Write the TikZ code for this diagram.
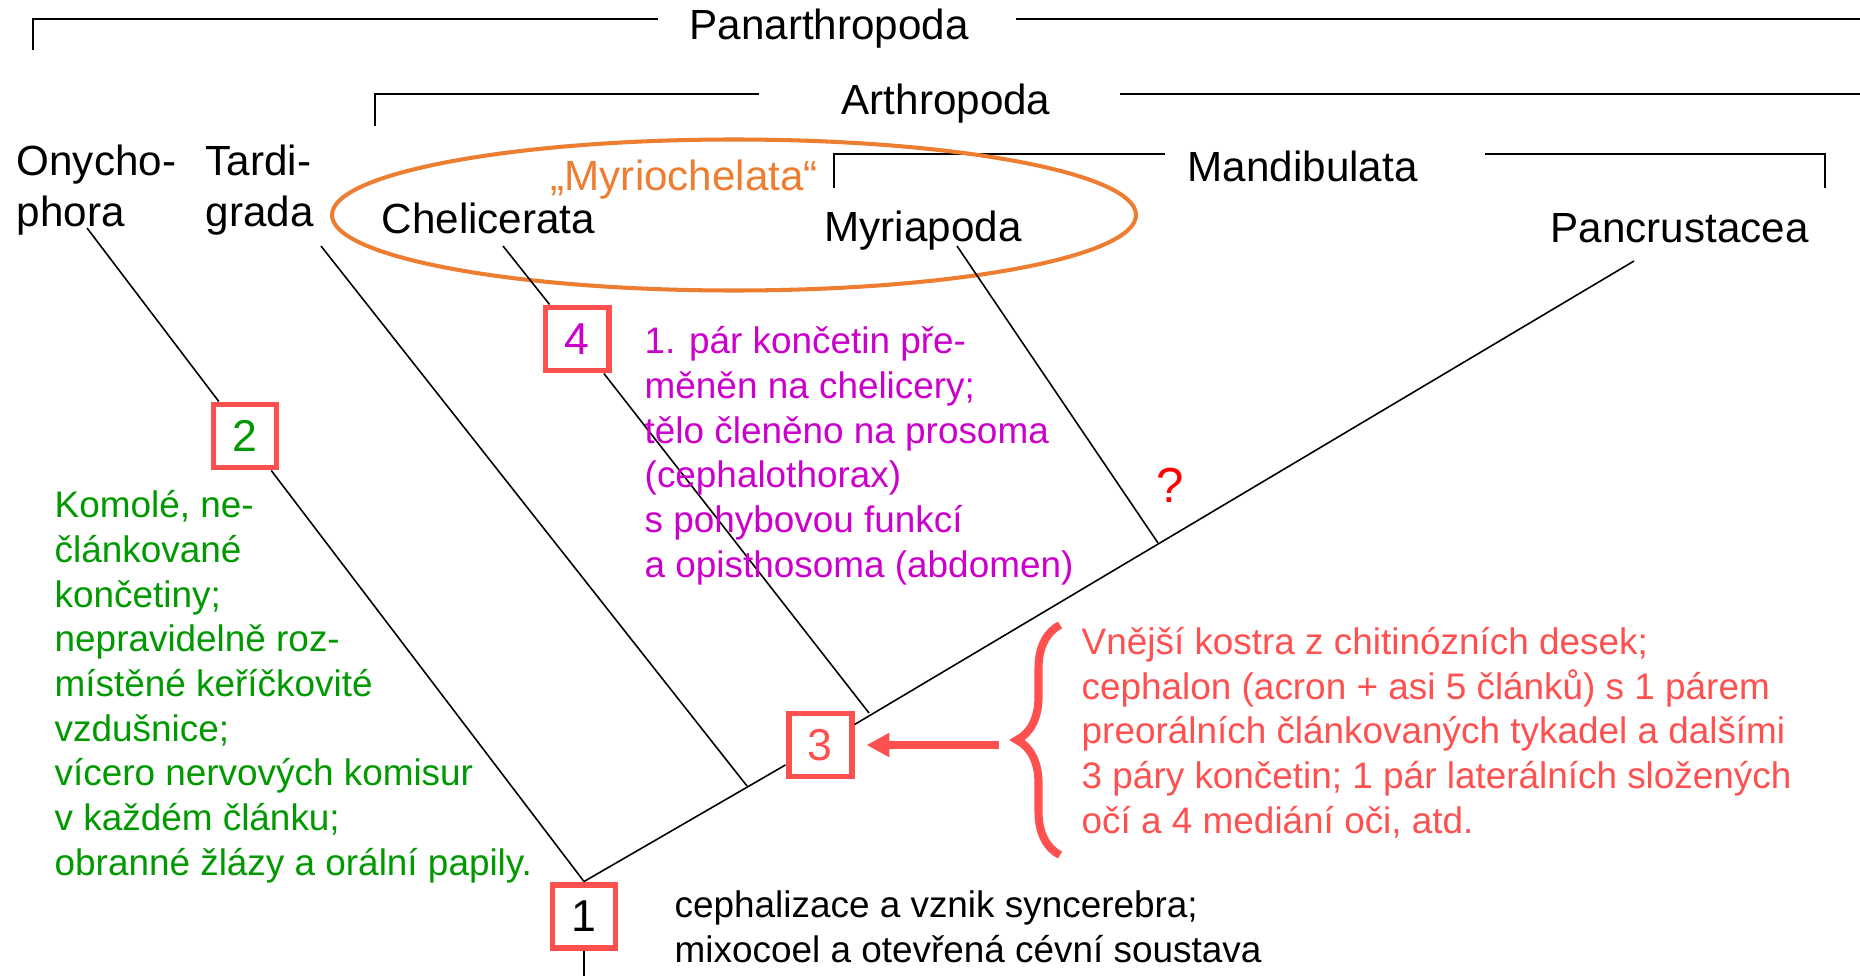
\documentclass[tikz,border=0pt]{standalone}
\usepackage{fontspec}
\setmainfont{Liberation Sans}
\usetikzlibrary{arrows.meta,decorations.pathreplacing}
\definecolor{boxred}{RGB}{255,80,80}
\definecolor{mygreen}{RGB}{0,153,0}
\definecolor{mypurple}{RGB}{204,0,204}
\definecolor{myorange}{RGB}{237,125,49}
\tikzset{
  lbl/.style={anchor=base west,inner sep=0pt,font=\fontsize{12}{14.3}\selectfont},
  desc/.style={anchor=base west,inner sep=0pt,align=left,font=\fontsize{10.5}{12.7}\selectfont},
  numbox/.style={draw=boxred,line width=1.7pt,fill=white,minimum size=0.63cm,inner sep=0pt,font=\fontsize{12.7}{15}\selectfont},
  branch/.style={line width=0.45pt},
  clade/.style={line width=0.6pt},
}
\begin{document}
\begin{tikzpicture}
\path[use as bounding box,fill=white] (0,0) rectangle (18.6,-9.76);
% clade brackets
\draw[clade] (0.33,-0.50) |- (6.58,-0.19);
\draw[clade] (10.16,-0.19) -- (18.6,-0.19);
\node[lbl] (panar) at (6.89,-0.40) {Panarthropoda};
\draw[clade] (3.75,-1.26) |- (7.59,-0.94);
\draw[clade] (11.20,-0.94) -- (18.6,-0.94);
\node[lbl] (arthr) at (8.41,-1.15) {Arthropoda};
\draw[clade] (8.34,-1.88) |- (11.65,-1.54);
\draw[clade] (14.85,-1.54) -| (18.25,-1.88);
\node[lbl] (mandi) at (11.87,-1.82) {Mandibulata};
% taxa (base = last line)
\node[lbl,align=left] (onych) at (0.16,-2.26) {Onycho-\\phora};
\node[lbl,align=left] (tardi) at (2.05,-2.26) {Tardi-\\grada};
\node[lbl] (cheli) at (3.81,-2.34) {Chelicerata};
\node[lbl] (myria) at (8.24,-2.41) {Myriapoda};
\node[lbl] (pancr) at (15.50,-2.42) {Pancrustacea};
\node[lbl,text=myorange] (myrio) at (5.50,-1.90) {„Myriochelata“};
\draw[myorange,line width=1.15pt] (7.34,-2.15) ellipse (4.02 and 0.755);
% tree
\coordinate (onyT) at (0.87,-2.28);
\coordinate (tarT) at (3.21,-2.46);
\coordinate (chelT) at (5.03,-2.46);
\coordinate (myrT) at (9.57,-2.46);
\coordinate (panT) at (16.34,-2.61);
\coordinate (jTar) at (7.47,-7.86);
\coordinate (jChel) at (8.69,-7.13);
\coordinate (jMyr) at (11.58,-5.43);
\node[numbox] (n1) at (5.84,-9.16) {1};
\node[numbox,text=mygreen] (n2) at (2.45,-4.36) {2};
\node[numbox,text=boxred] (n3) at (8.20,-7.45) {3};
\node[numbox,text=mypurple] (n4) at (5.77,-3.39) {4};
\draw[branch] (n1.north) -- (n3) -- (panT);
\draw[branch] (onyT) -- (n2) -- (n1.north);
\draw[branch] (tarT) -- (jTar);
\draw[branch] (chelT) -- (n4) -- (jChel);
\draw[branch] (myrT) -- (jMyr);
\draw[branch] (n1.south) -- (5.84,-9.76);
\node[text=red,font=\fontsize{14}{16}\selectfont] (quest) at (11.70,-4.85) {?};
% descriptions (base = last line)
\node[desc,text=mygreen] (txt2) at (0.54,-8.75) {Komolé, ne-\\článkované\\končetiny;\\nepravidelně roz-\\místěné keříčkovité\\vzdušnice;\\vícero nervových komisur\\v každém článku;\\obranné žlázy a orální papily.};
\node[desc,text=mypurple] (txt4) at (6.44,-5.77) {1. pár končetin pře-\\měněn na chelicery;\\tělo členěno na prosoma\\(cephalothorax)\\s pohybovou funkcí\\a opisthosoma (abdomen)};
\node[desc,text=boxred] (txt3) at (10.81,-8.33) {Vnější kostra z chitinózních desek;\\cephalon (acron + asi 5 článků) s 1 párem\\preorálních článkovaných tykadel a dalšími\\3 páry končetin; 1 pár laterálních složených\\očí a 4 mediání oči, atd.};
\node[desc] (txt1) at (6.74,-9.62) {cephalizace a vznik syncerebra;\\mixocoel a otevřená cévní soustava};
\coordinate (arrS) at (9.99,-7.45);
\draw[boxred,line width=2.3pt,-{Triangle[length=6.5pt,width=6.5pt]},shorten >=0.12cm] (arrS) -- (n3.east);
\draw[boxred,line width=2.3pt,decorate,decoration={brace,amplitude=0.43cm}] (10.60,-8.55) -- (10.60,-6.25);
\end{tikzpicture}
\end{document}
